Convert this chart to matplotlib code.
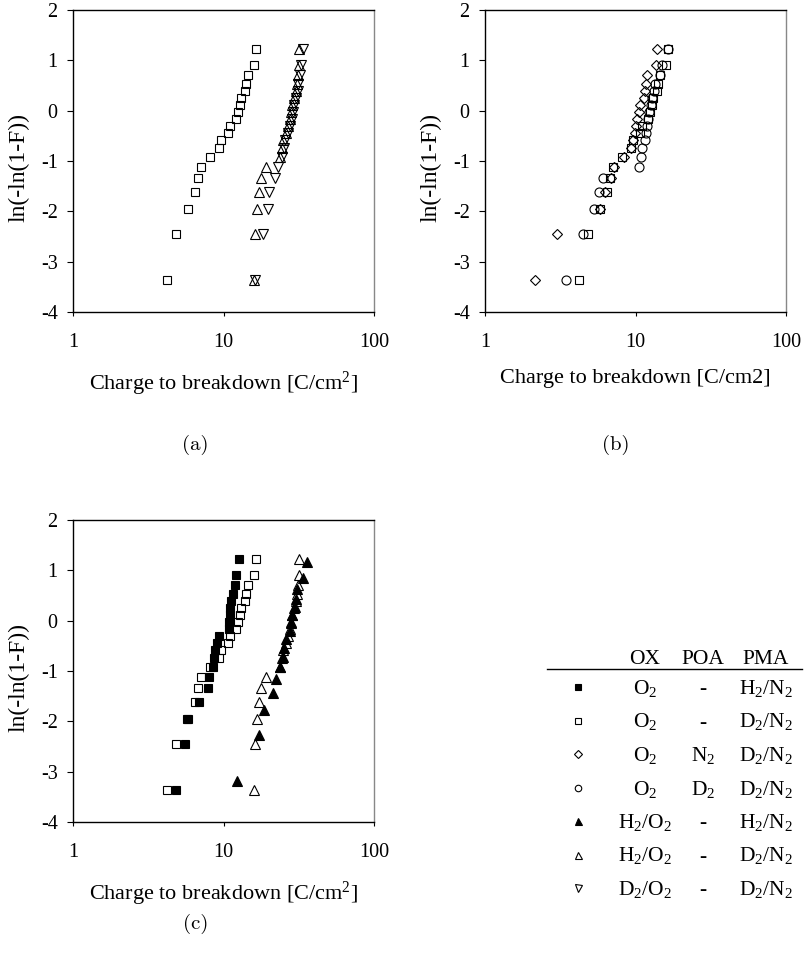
import matplotlib
matplotlib.use("Agg")
import matplotlib.pyplot as plt

plt.rcParams["font.family"] = ["Liberation Serif", "DejaVu Serif"]
plt.rcParams["mathtext.fontset"] = "custom"
plt.rcParams["mathtext.rm"] = "Liberation Serif"
plt.rcParams["mathtext.default"] = "regular"
plt.rcParams["axes.unicode_minus"] = False

# Weibull plotting positions ln(-ln(1-F)) for lots of 20 and 17 capacitors
WEIBULL_20 = [-3.355, -2.442, -1.952, -1.609, -1.340, -1.116, -0.921, -0.747,
              -0.587, -0.438, -0.296, -0.160, -0.026, 0.107, 0.243, 0.384,
              0.535, 0.704, 0.910, 1.216]
WEIBULL_17 = [-3.193, -2.275, -1.780, -1.431, -1.156, -0.924, -0.721, -0.537,
              -0.367, -0.204, -0.047, 0.110, 0.269, 0.437, 0.622, 0.844, 1.167]

# Charge to breakdown [C/cm2], sorted, one list per process split
QBD_O2_H2N2 = [4.87, 5.53, 5.68, 6.86, 7.91, 8.04, 8.54, 8.63, 8.77, 9.0,
               9.37, 10.9, 10.95, 11.0, 11.05, 11.3, 11.5, 11.9, 12.2, 12.7]
QBD_O2_D2N2 = [4.22, 4.87, 5.77, 6.42, 6.76, 7.12, 8.08, 9.35, 9.6, 10.75,
               11.03, 12.2, 12.4, 12.9, 13.1, 13.9, 14.2, 14.5, 15.95, 16.5]
QBD_O2_N2_D2N2 = [2.14, 3.03, 5.78, 6.24, 6.9, 7.2, 8.4, 9.4, 9.6, 9.9,
                  10.0, 10.2, 10.5, 10.7, 11.4, 11.5, 11.7, 11.9, 13.6, 14.0]
QBD_O2_D2_D2N2 = [3.44, 4.48, 5.27, 5.72, 6.08, 10.5, 10.8, 11.0, 11.5, 11.8,
                  11.9, 12.1, 12.3, 12.6, 12.9, 13.2, 13.4, 14.5, 14.9, 16.4]
QBD_H2O2_H2N2 = [12.3, 17.3, 18.6, 21.4, 22.2, 23.7, 24.7, 25.2, 26.0, 27.7,
                 28.1, 28.4, 29.9, 30.2, 30.6, 33.6, 35.7]
QBD_H2O2_D2N2 = [15.9, 16.2, 16.6, 17.2, 17.7, 19.3, 23.6, 24.3, 25.0, 25.9,
                 27.0, 27.6, 28.2, 28.7, 29.5, 30.3, 30.7, 31.5, 31.9, 31.9]
QBD_D2O2_D2N2 = [16.1, 18.2, 19.8, 20.0, 22.0, 22.9, 24.4, 25.1, 25.8, 26.7,
                 27.8, 28.4, 29.0, 29.5, 30.3, 31.1, 31.5, 32.3, 32.7, 33.9]

SERIES = {
    "o2_h2n2":    (QBD_O2_H2N2, WEIBULL_20),
    "o2_d2n2":    (QBD_O2_D2N2, WEIBULL_20),
    "o2_n2_d2n2": (QBD_O2_N2_D2N2, WEIBULL_20),
    "o2_d2_d2n2": (QBD_O2_D2_D2N2, WEIBULL_20),
    "h2o2_h2n2":  (QBD_H2O2_H2N2, WEIBULL_17),
    "h2o2_d2n2":  (QBD_H2O2_D2N2, WEIBULL_20),
    "d2o2_d2n2":  (QBD_D2O2_D2N2, WEIBULL_20),
}

# marker, filled, size in the plots
STYLE = {
    "o2_h2n2":    ("s", True, 6.0),
    "o2_d2n2":    ("s", False, 6.0),
    "o2_n2_d2n2": ("D", False, 5.5),
    "o2_d2_d2n2": ("o", False, 6.5),
    "h2o2_h2n2":  ("^", True, 7.0),
    "h2o2_d2n2":  ("^", False, 7.0),
    "d2o2_d2n2":  ("v", False, 7.0),
}

# legend table: OX, POA, PMA
LEGEND_ROWS = [
    ("o2_h2n2",    "O$_2$",      "-",     "H$_2$/N$_2$"),
    ("o2_d2n2",    "O$_2$",      "-",     "D$_2$/N$_2$"),
    ("o2_n2_d2n2", "O$_2$",      "N$_2$", "D$_2$/N$_2$"),
    ("o2_d2_d2n2", "O$_2$",      "D$_2$", "D$_2$/N$_2$"),
    ("h2o2_h2n2",  "H$_2$/O$_2$", "-",    "H$_2$/N$_2$"),
    ("h2o2_d2n2",  "H$_2$/O$_2$", "-",    "D$_2$/N$_2$"),
    ("d2o2_d2n2",  "D$_2$/O$_2$", "-",    "D$_2$/N$_2$"),
]

PANELS = [
    ("(a)", ["o2_d2n2", "h2o2_d2n2", "d2o2_d2n2"],
     "Charge to breakdown [C/cm$^2$]"),
    ("(b)", ["o2_n2_d2n2", "o2_d2_d2n2", "o2_d2n2"],
     "Charge to breakdown [C/cm2]"),
    ("(c)", ["o2_d2n2", "o2_h2n2", "h2o2_d2n2", "h2o2_h2n2"],
     "Charge to breakdown [C/cm$^2$]"),
]

W, H = 806, 967
# axes boxes in pixels: left, top, right, bottom
BOXES = [(73, 10, 374, 312), (485, 10, 786, 312), (73, 520, 374, 822)]
CAPTIONS = [(195, 445), (616, 445), (196, 924)]

fig = plt.figure(figsize=(W / 100, H / 100), dpi=100)


def px_axes(l, t, r, b):
    return fig.add_axes([l / W, 1 - b / H, (r - l) / W, (b - t) / H])


def draw_series(ax, key, ms_scale=1.0):
    marker, filled, ms = STYLE[key]
    x, y = SERIES[key]
    ax.plot(x, y, linestyle="none", marker=marker, ms=ms * ms_scale,
            mfc="black" if filled else "none", mec="black", mew=0.8)


for (cap, keys, xlabel), box, cpos in zip(PANELS, BOXES, CAPTIONS):
    ax = px_axes(*box)
    for key in keys:
        draw_series(ax, key)
    ax.set_xscale("log")
    ax.set_xlim(1, 100)
    ax.set_ylim(-4, 2)
    ax.set_xticks([1, 10, 100], ["1", "10", "100"])
    ax.minorticks_off()
    ax.set_yticks(range(-4, 3))
    ax.tick_params(axis="x", direction="out", length=3, width=0.8,
                   labelsize=14.5, pad=12)
    ax.tick_params(axis="y", direction="out", length=4, width=0.8,
                   labelsize=14.5, pad=7)
    for side in ("left", "bottom", "top"):
        ax.spines[side].set_linewidth(1.0)
    ax.spines["right"].set_linewidth(1.0)
    ax.spines["right"].set_color("#888888")
    ax.set_xlabel(xlabel, fontsize=16)
    ax.xaxis.set_label_coords(0.5, -0.19)
    ax.xaxis.label.set_va("top")
    ax.set_ylabel("ln(-ln(1-F))", fontsize=17)
    ax.yaxis.set_label_coords(-0.145, 0.48)
    fig.text(cpos[0] / W, 1 - cpos[1] / H, cap, family="cmr10",
             fontsize=15, ha="center", va="center")

# table-style legend, laid out in pixel units
leg = px_axes(540, 640, 806, 900)
leg.set_xlim(540, 806)
leg.set_ylim(900, 640)
leg.axis("off")

MARK_X, OX_X, POA_X, PMA_X = 578, 645, 703, 766
HEAD_Y, RULE_Y, ROW0_Y, ROW_STEP = 657, 669, 687, 33.5
FS_LEG = 15.5

for x, txt in zip((OX_X, POA_X, PMA_X), ("OX", "POA", "PMA")):
    leg.text(x, HEAD_Y + 7, txt, fontsize=FS_LEG, ha="center", va="baseline")
leg.plot([547, 802], [RULE_Y, RULE_Y], color="black", lw=1.0)

for i, (key, ox, poa, pma) in enumerate(LEGEND_ROWS):
    y = ROW0_Y + i * ROW_STEP
    marker, filled, ms = STYLE[key]
    leg.plot([MARK_X], [y], linestyle="none", marker=marker, ms=ms * 0.72,
             mfc="black" if filled else "none", mec="black", mew=0.8)
    for x, txt in zip((OX_X, POA_X, PMA_X), (ox, poa, pma)):
        leg.text(x, y + 7, txt, fontsize=FS_LEG, ha="center", va="baseline")

fig.savefig("out.png", dpi=100)
